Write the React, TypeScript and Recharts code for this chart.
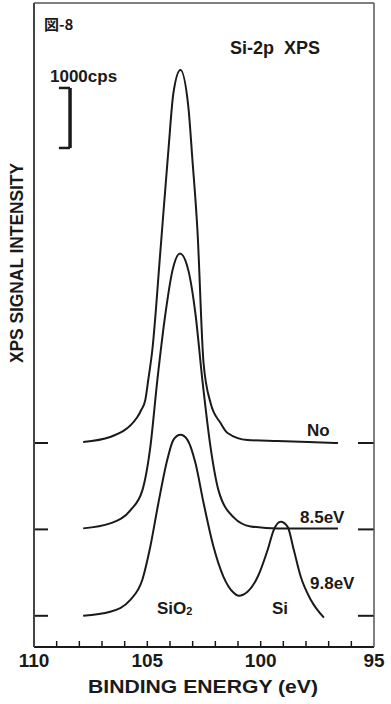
import React from "react";
import { LineChart, Line, XAxis, YAxis, ReferenceLine } from "recharts";

// Binding energy (eV) and intensity above each trace's baseline (cps)
const beNo = [107.83, 106.64, 105.44, 105.27, 105.09, 104.96, 104.78, 104.42, 104.07, 103.85, 103.54, 103.19, 103.01, 102.79, 102.52, 102.21, 101.77, 101.46, 100.58, 99.25, 97.92, 96.59];
const intNo = [17, 100, 433, 550, 717, 1050, 1550, 3217, 4883, 5833, 6217, 5600, 4717, 3550, 1333, 667, 333, 167, 50, 33, 17, 0];

const beMid = [107.83, 106.64, 105.75, 105.22, 104.87, 104.56, 104.2, 103.89, 103.56, 103.19, 102.88, 102.57, 102.21, 101.86, 101.19, 100.44, 99.25, 96.59];
const intMid = [17, 100, 317, 650, 1367, 2483, 3600, 4317, 4600, 4317, 3600, 2483, 1367, 650, 200, 50, 17, 17];

const beBot = [107.83, 106.64, 105.75, 105.22, 104.87, 104.51, 104.12, 103.85, 103.54, 103.23, 102.88, 102.52, 102.08, 101.64, 101.19, 100.97, 100.58, 100.13, 99.69, 99.42, 99.12, 98.81, 98.54, 98.23, 97.79, 97.21];
const intBot = [0, 67, 267, 600, 1150, 1883, 2600, 2933, 3017, 2933, 2550, 1883, 1150, 650, 383, 333, 400, 650, 1100, 1433, 1567, 1483, 1100, 650, 267, -30];

// vertical offsets (baselines) of the three traces, cps
const baselines = [3400, 1960, 520];
const seriesNames = ["No", "8.5eV", "9.8eV"];

// all 1 eV ticks; only multiples of 5 are labelled
const xTicks = [110, 109, 108, 107, 106, 105, 104, 103, 102, 101, 100, 99, 98, 97, 96, 95];
const xLabelled = [110, 105, 100, 95];

const X_MIN = 95;
const X_MAX = 110;
const Y_MAX = 10733;
const SCALE_BAR_CPS = 1000;

// chart geometry
const W = 391;
const H = 704;
const M = { top: 3, right: 17, bottom: 0, left: 34 };
const X_AXIS_H = 57;
const PLOT_W = W - M.left - M.right;
const PLOT_H = H - M.top - M.bottom - X_AXIS_H;

const build = (be: number[], v: number[], off: number) =>
  be.map((b, i) => ({ be: b, v: v[i] + off }));

const dataNo = build(beNo, intNo, baselines[0]);
const dataMid = build(beMid, intMid, baselines[1]);
const dataBot = build(beBot, intBot, baselines[2]);

const FONT = '"Liberation Sans", Arial, Helvetica, sans-serif';
const INK = "#1a1a1a";
const FRAME = "#555";

const XTick = (props: any) => {
  const { x, y, payload } = props;
  const v = payload.value;
  if (!xLabelled.includes(v)) return <g />;
  return (
    <text x={x} y={y} dy={14} textAnchor="middle" fontSize={19} fontWeight="bold" fill={INK} fontFamily={FONT}>
      {v}
    </text>
  );
};

const EmptyTick = () => <g />;

// pixel position of a binding-energy value along the reversed x axis (for the frame's minor ticks)
const bx = (v: number) => M.left + ((X_MAX - v) / (X_MAX - X_MIN)) * PLOT_W;

export default function App() {
  const barX = 108.41;
  const barY0 = 8317;
  const plotBottom = M.top + PLOT_H;
  return (
    <div style={{ position: "absolute", left: 0, top: 0, width: W, height: H, background: "#fff" }}>
      <LineChart width={W} height={H} margin={M}>
        <XAxis
          dataKey="be"
          type="number"
          domain={[X_MIN, X_MAX]}
          reversed
          allowDataOverflow
          ticks={xTicks}
          interval={0}
          height={X_AXIS_H}
          tickLine={false}
          tickSize={6}
          tickMargin={0}
          axisLine={{ stroke: INK, strokeWidth: 2 }}
          tick={<XTick />}
        />
        <YAxis
          yAxisId="lticks"
          type="number"
          domain={[0, Y_MAX]}
          allowDataOverflow
          ticks={baselines}
          interval={0}
          mirror
          width={1}
          tickSize={14}
          tick={<EmptyTick />}
          tickLine={{ stroke: INK, strokeWidth: 2 }}
          axisLine={false}
        />
        <YAxis
          yAxisId="rticks"
          orientation="right"
          type="number"
          domain={[0, Y_MAX]}
          allowDataOverflow
          ticks={baselines}
          interval={0}
          mirror
          width={1}
          tickSize={16}
          tick={<EmptyTick />}
          tickLine={{ stroke: INK, strokeWidth: 2 }}
          axisLine={false}
        />
        <YAxis
          type="number"
          domain={[0, Y_MAX]}
          allowDataOverflow
          hide
        />
        {/* 1000 cps scale bar */}
        <ReferenceLine
          segment={[{ x: barX, y: barY0 }, { x: barX, y: barY0 + SCALE_BAR_CPS }]}
          stroke={INK}
          strokeWidth={3.5}
        />
        <ReferenceLine
          segment={[{ x: 108.9, y: barY0 + SCALE_BAR_CPS }, { x: barX, y: barY0 + SCALE_BAR_CPS }]}
          stroke={INK}
          strokeWidth={2.5}
        />
        <ReferenceLine
          segment={[{ x: 108.9, y: barY0 }, { x: barX, y: barY0 }]}
          stroke={INK}
          strokeWidth={2.5}
        />
        <Line data={dataNo} dataKey="v" name={seriesNames[0]} type="monotone" stroke={INK} strokeWidth={2} dot={false} isAnimationActive={false} />
        <Line data={dataMid} dataKey="v" name={seriesNames[1]} type="monotone" stroke={INK} strokeWidth={2} dot={false} isAnimationActive={false} />
        <Line data={dataBot} dataKey="v" name={seriesNames[2]} type="monotone" stroke={INK} strokeWidth={2} dot={false} isAnimationActive={false} />
      </LineChart>
      <svg
        width={W}
        height={H}
        style={{ position: "absolute", left: 0, top: 0, pointerEvents: "none" }}
      >
        {/* plot frame */}
        <line x1={M.left} x2={M.left + PLOT_W} y1={M.top} y2={M.top} stroke={FRAME} strokeWidth={1.5} />
        <line x1={M.left + PLOT_W} x2={M.left + PLOT_W} y1={M.top} y2={plotBottom} stroke={FRAME} strokeWidth={1.5} />
        <line x1={M.left} x2={M.left} y1={M.top} y2={plotBottom} stroke="#444" strokeWidth={2} />
        {xTicks
          .filter((t) => t !== X_MIN && t !== X_MAX)
          .map((t) => (
            <line key={t} x1={bx(t)} x2={bx(t)} y1={plotBottom} y2={plotBottom - 6} stroke={INK} strokeWidth={1.5} />
          ))}
        <g fill={INK} fontFamily={FONT} fontWeight="bold">
          <text x={44} y={30} fontSize={15} fontFamily='"Noto Sans CJK JP", sans-serif'>図-8</text>
          <text x={50} y={82} fontSize={17}>1000cps</text>
          <text x={230} y={54} fontSize={18} style={{ whiteSpace: "pre" }}>Si-2p  XPS</text>
          <text x={307} y={436} fontSize={17}>{seriesNames[0]}</text>
          <text x={300} y={523} fontSize={17}>{seriesNames[1]}</text>
          <text x={310} y={589} fontSize={17}>{seriesNames[2]}</text>
          <text x={157} y={614} fontSize={17}>
            SiO<tspan fontSize={11} dy={1}>2</tspan>
          </text>
          <text x={272} y={614} fontSize={17}>Si</text>
          <text x={88} y={693} fontSize={19} textLength={230} lengthAdjust="spacingAndGlyphs">
            BINDING ENERGY (eV)
          </text>
          <text
            transform="translate(23,263) rotate(-90)"
            textAnchor="middle"
            fontSize={18}
            textLength={200}
            lengthAdjust="spacingAndGlyphs"
          >
            XPS SIGNAL INTENSITY
          </text>
        </g>
      </svg>
    </div>
  );
}
